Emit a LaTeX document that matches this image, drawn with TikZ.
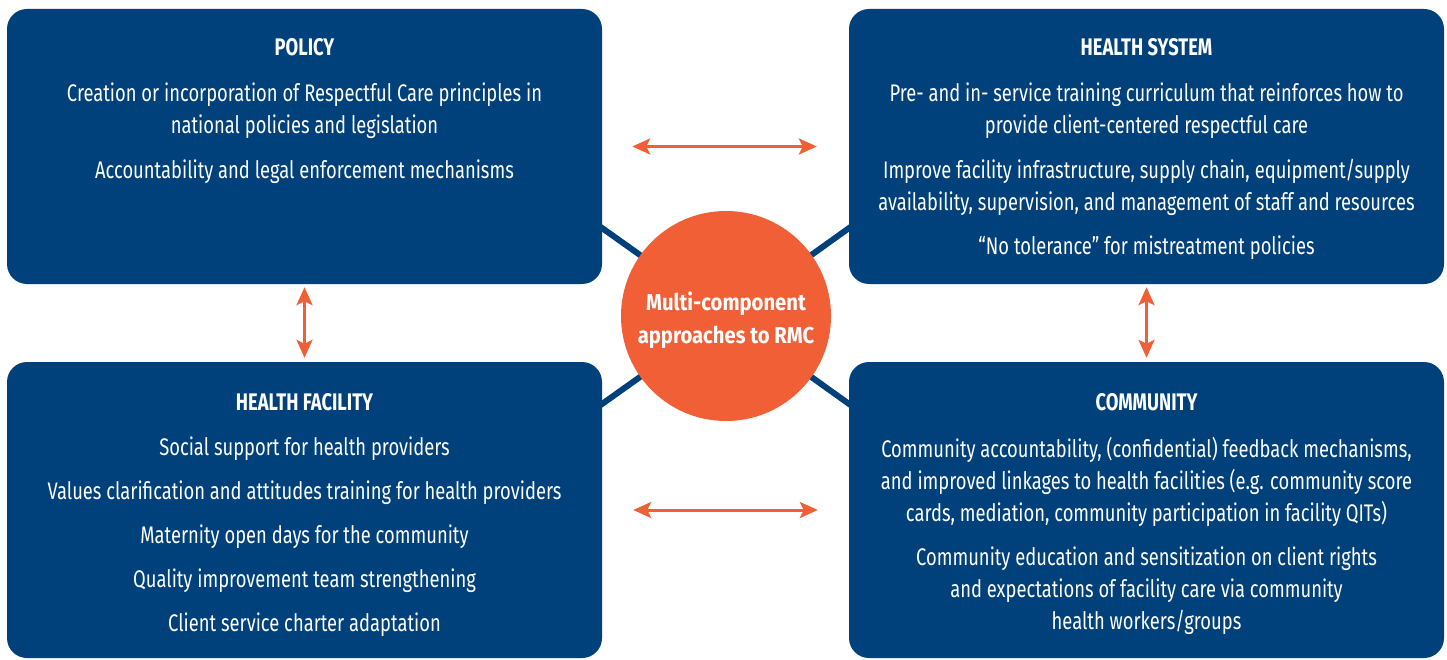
\documentclass[tikz,border=0pt]{standalone}
\usepackage{fontspec}
\setmainfont{Fira Sans}[FakeStretch=0.765]
\newfontfamily\hubfont{Fira Sans}[FakeStretch=0.88]
\usetikzlibrary{positioning, arrows.meta, backgrounds}
\definecolor{rmcblue}{HTML}{00417B}
\definecolor{rmcorange}{HTML}{F15F36}
\tikzset{
>={Stealth[length=18pt, width=16pt, inset=4pt]}, % heads of the orange arrows
}
\begin{document}
\begin{tikzpicture}[
  x=1pt, y=-1pt,
  every node/.style={inner sep=0pt},
  box/.style={rectangle, rounded corners=20pt, fill=rmcblue, minimum width=595pt},
  title/.style={text=white, anchor=base, font=\bfseries\fontsize{24}{32}\selectfont},
  body/.style={text=white, align=center, anchor=north, font=\fontsize{24}{32}\selectfont},
  link/.style={draw=rmcblue, line width=6pt},
  twoway/.style={<->, draw=rmcorange, line width=3pt}
]
  \useasboundingbox (0,0) rectangle (1447,660);

  % the four boxes
  \node[box, minimum height=275pt] (policy) at (304.5,146.5) {};
  \node[box, minimum height=275pt] (system) at (1146.5,146.5) {};
  \node[box, minimum height=296pt] (facility) at (304.5,510) {};
  \node[box, minimum height=296pt] (community) at (1146.5,510) {};

  % centre
  \node[circle, fill=rmcorange, minimum size=210pt, text=white, align=center,
        font=\hubfont\bfseries\fontsize{23}{33}\selectfont] (hub) at (726,316)
        {\rule{0pt}{27pt}Multi-component\\approaches to RMC};

  % spokes
  \coordinate (policy-in) at (590,219.5);
  \coordinate (system-in) at (861,219.5);
  \coordinate (facility-in) at (590,412.5);
  \coordinate (community-in) at (861,412.5);
  \begin{scope}[on background layer]
    \draw[link] (hub.center) -- (policy-in);
    \draw[link] (hub.center) -- (system-in);
    \draw[link] (hub.center) -- (facility-in);
    \draw[link] (hub.center) -- (community-in);
  \end{scope}

  % texts
  \node[title] (policy-t) at ([yshift=-47pt]policy.north) {POLICY};
  \node[body] (policy-b) at ([yshift=-74pt]policy.north)
    {Creation or incorporation of Respectful Care principles in\\
     national policies and legislation\\[13pt]
     Accountability and legal enforcement mechanisms};

  \node[title] (system-t) at ([yshift=-47pt]system.north) {HEALTH SYSTEM};
  \node[body] (system-b) at ([yshift=-74pt]system.north)
    {Pre- and in- service training curriculum that reinforces how to\\
     provide client-centered respectful care\\[13pt]
     Improve facility infrastructure, supply chain, equipment/supply\\
     availability, supervision, and management of staff and resources\\[12pt]
     “No tolerance” for mistreatment policies};

  \node[title] (facility-t) at ([yshift=-49pt]facility.north) {HEALTH FACILITY};
  \node[body] (facility-b) at ([yshift=-75pt]facility.north)
    {Social support for health providers\\[12pt]
     Values clarification and attitudes training for health providers\\[12pt]
     Maternity open days for the community\\[12pt]
     Quality improvement team strengthening\\[12pt]
     Client service charter adaptation};

  \node[title] (community-t) at ([yshift=-49pt]community.north) {COMMUNITY};
  \node[body] (community-b) at ([yshift=-75pt]community.north)
    {Community accountability, (confidential) feedback mechanisms,\\
     and improved linkages to health facilities (e.g. community score\\
     cards, mediation, community participation in facility QITs)\\[12pt]
     Community education and sensitization on client rights\\
     and expectations of facility care via community\\
     health workers/groups};

  % arrows between the boxes
  \draw[twoway, shorten <=30pt, shorten >=32pt] (policy) -- (system);
  \draw[twoway, shorten <=31pt, shorten >=31pt] (facility) -- (community);
  \draw[twoway, shorten <=3pt, shorten >=4pt] (policy) -- (facility);
  \draw[twoway, shorten <=3pt, shorten >=4pt] (system) -- (community);
\end{tikzpicture}
\end{document}
